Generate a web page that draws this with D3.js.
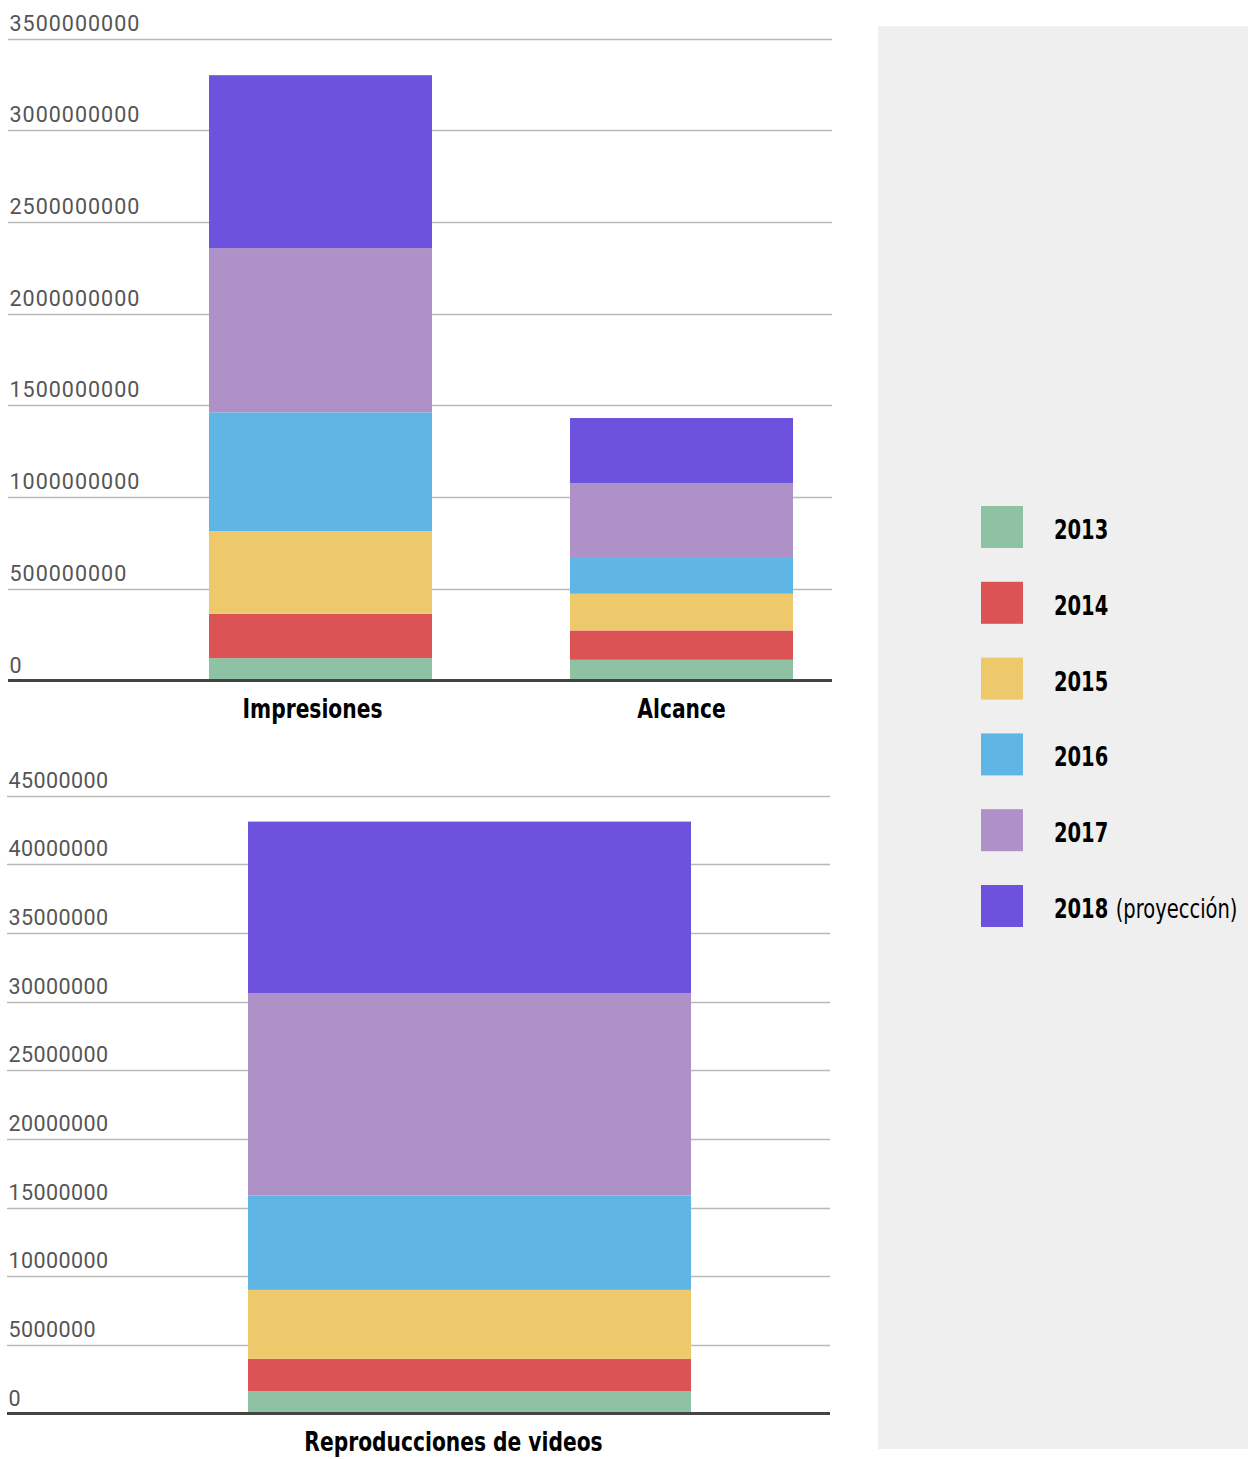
<!DOCTYPE html>
<html>
<head>
<meta charset="utf-8">
<script src="https://cdn.jsdelivr.net/npm/d3@7"></script>
<style>
  html, body { margin: 0; padding: 0; background: #ffffff; }
  svg { display: block; }
</style>
</head>
<body>
<svg id="chart" width="1248" height="1459"></svg>
<script>
// ---- data ----
const years = ["2013", "2014", "2015", "2016", "2017", "2018"];
const yearNotes = ["", "", "", "", "", "(proyección)"];
const colors = ["#8fc1a5", "#dc5355", "#eec96b", "#5fb5e4", "#ad91c7", "#6c52dc"];

const topCategories = ["Impresiones", "Alcance"];
const impresiones = [122000000, 242000000, 451000000, 647000000, 895000000, 943000000];
const alcance = [113000000, 160000000, 200000000, 200000000, 403000000, 355000000];
const topTicks = [0, 500000000, 1000000000, 1500000000, 2000000000, 2500000000, 3000000000, 3500000000];

const bottomCategories = ["Reproducciones de videos"];
const videos = [1620000, 2360000, 5020000, 6880000, 14720000, 12500000];
const bottomTicks = [0, 5000000, 10000000, 15000000, 20000000, 25000000, 30000000, 35000000, 40000000, 45000000];

// ---- drawing ----
const svg = d3.select("#chart");

// legend panel
svg.append("rect").attr("x", 878).attr("y", 26).attr("width", 370).attr("height", 1423).attr("fill", "#efefef");

const labelFont = "'DejaVu Sans', 'Liberation Sans', sans-serif";

// measure a condensed factor so that the bold label face resembles a condensed display font
const probe = svg.append("text").attr("font-family", labelFont).attr("font-weight", "bold")
  .attr("font-stretch", "condensed").attr("font-size", 27).text("Impresiones");
const sx = 140 / probe.node().getComputedTextLength();
probe.remove();

function condensedText(parent, x, y, anchor, size) {
  return parent.append("text")
    .attr("transform", `translate(${x},${y}) scale(${sx},1)`)
    .attr("text-anchor", anchor)
    .attr("font-family", labelFont)
    .attr("font-stretch", "condensed")
    .attr("font-size", size)
    .attr("fill", "#000");
}

function drawChart(opts) {
  const { categories, seriesByCat, ticks, yTop, yBottom, xLeft, xRight, barRange, inner, maxVal, labelDx, tickSpacing } = opts;
  const g = svg.append("g");
  const y = d3.scaleLinear().domain([0, maxVal]).range([yBottom, yTop]);
  const x = d3.scaleBand().domain(categories).range(barRange).paddingInner(inner).paddingOuter(0);

  // gridlines
  g.selectAll(null).data(ticks.filter(t => t > 0)).enter().append("line")
    .attr("x1", xLeft).attr("x2", xRight)
    .attr("y1", d => Math.round(y(d)) + 0.5).attr("y2", d => Math.round(y(d)) + 0.5)
    .attr("stroke", "#b9b9b9").attr("stroke-width", 1.6);

  // tick labels
  g.selectAll(null).data(ticks).enter().append("text")
    .attr("x", xLeft + 1.5)
    .attr("y", d => y(d) - 8)
    .attr("font-family", "Roboto, 'Open Sans', sans-serif")
    .attr("font-size", 21.5)
    .attr("fill", "#555")
    .attr("letter-spacing", tickSpacing)
    .text(d => d3.format("d")(d));

  // stacked bars
  const rows = categories.map((c, i) => {
    const o = { cat: c };
    years.forEach((yr, j) => o[yr] = seriesByCat[i][j]);
    return o;
  });
  const stack = d3.stack().keys(years)(rows);
  stack.forEach((layer, j) => {
    g.selectAll(null).data(layer).enter().append("rect")
      .attr("x", d => x(d.data.cat))
      .attr("width", x.bandwidth())
      .attr("y", d => y(d[1]))
      .attr("height", d => y(d[0]) - y(d[1]))
      .attr("fill", colors[j]);
  });

  // baseline
  g.append("line").attr("x1", xLeft).attr("x2", xRight)
    .attr("y1", y(0)).attr("y2", y(0))
    .attr("stroke", "#444").attr("stroke-width", 3);

  // category labels
  categories.forEach((c, i) => {
    condensedText(g, x(c) + x.bandwidth() / 2 + labelDx[i], y(0) + 37, "middle", 27)
      .attr("font-weight", "bold").text(c);
  });
}

drawChart({
  categories: topCategories,
  seriesByCat: [impresiones, alcance],
  ticks: topTicks,
  yTop: 38.5, yBottom: 680.5, xLeft: 8, xRight: 832,
  maxVal: 3500000000,
  barRange: [209, 793], inner: 0.3823,
  labelDx: [-8, 0], tickSpacing: 1.0
});

drawChart({
  categories: bottomCategories,
  seriesByCat: [videos],
  ticks: bottomTicks,
  yTop: 795.5, yBottom: 1413.5, xLeft: 7, xRight: 830,
  maxVal: 45000000,
  barRange: [248, 691], inner: 0,
  labelDx: [-16], tickSpacing: 0.4
});

// legend
const legend = svg.append("g");
const ly = d3.scalePoint().domain(years).range([506, 885]);
years.forEach((yr, i) => {
  legend.append("rect").attr("x", 981).attr("y", ly(yr)).attr("width", 42).attr("height", 42).attr("fill", colors[i]);
  const t = condensedText(legend, 1054, ly(yr) + 33, "start", 26);
  t.append("tspan").attr("font-weight", "bold").text(yr);
  if (yearNotes[i]) t.append("tspan").attr("font-weight", "normal").attr("dx", 9).text(yearNotes[i]);
});
</script>
</body>
</html>
